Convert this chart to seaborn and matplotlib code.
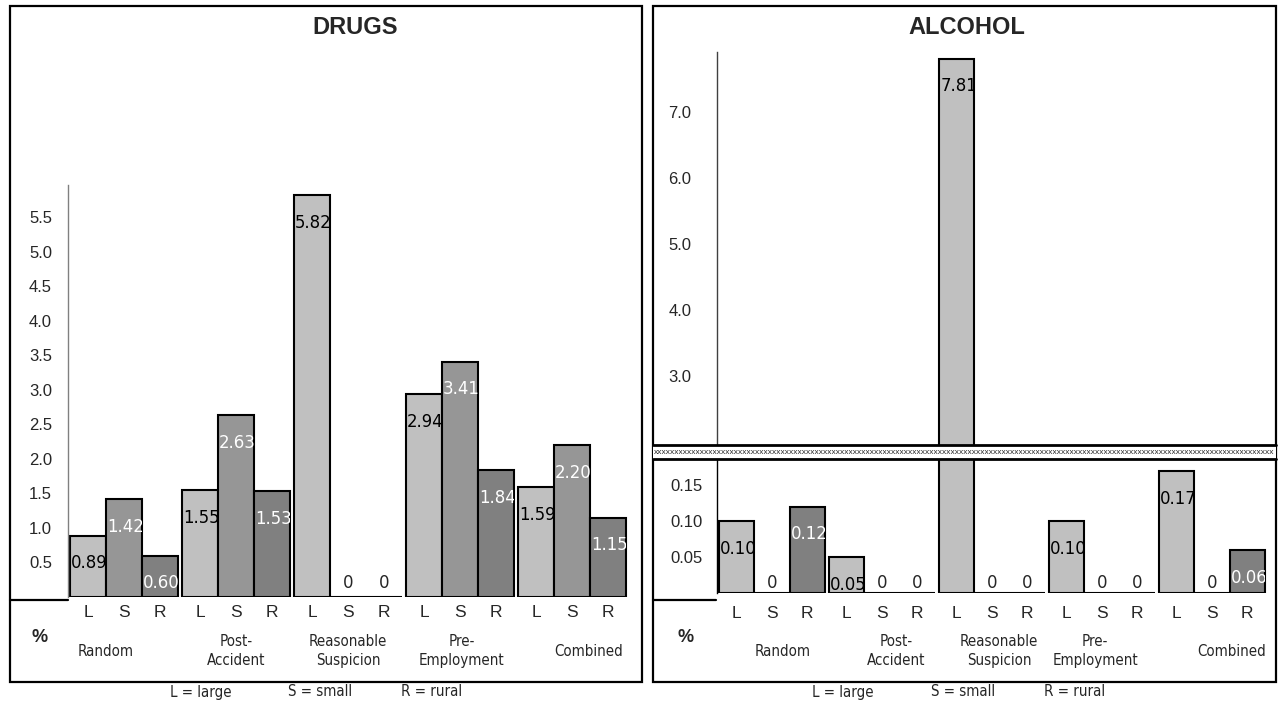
import matplotlib
matplotlib.use("Agg")
import pandas as pd
import matplotlib.pyplot as plt
import seaborn as sns
from matplotlib import font_manager
from matplotlib.patches import Rectangle
from matplotlib.lines import Line2D

# data
tests = ["Random", "Post-\nAccident", "Reasonable\nSuspicion", "Pre-\nEmployment", "Combined"]
sizes = ["L", "S", "R"]
drugs_L = [0.89, 1.55, 5.82, 2.94, 1.59]
drugs_S = [1.42, 2.63, 0.0, 3.41, 2.20]
drugs_R = [0.60, 1.53, 0.0, 1.84, 1.15]
alcohol_L = [0.10, 0.05, 7.81, 0.10, 0.17]
alcohol_S = [0.0, 0.0, 0.0, 0.0, 0.0]
alcohol_R = [0.12, 0.0, 0.0, 0.0, 0.06]
drug_ticks = [0.5, 1.0, 1.5, 2.0, 2.5, 3.0, 3.5, 4.0, 4.5, 5.0, 5.5]
alc_upper_ticks = [3.0, 4.0, 5.0, 6.0, 7.0]
alc_lower_ticks = [0.05, 0.10, 0.15]
legend_text = ["L = large", "S = small", "R = rural"]

bar_colors = ["#c0c0c0", "#969696", "#808080"]


def long_df(L, S, R):
    rows = []
    for size, vals in zip(sizes, [L, S, R]):
        for t, v in zip(tests, vals):
            rows.append({"test": t, "size": size, "value": v})
    return pd.DataFrame(rows)


drugs_df = long_df(drugs_L, drugs_S, drugs_R)
alcohol_df = long_df(alcohol_L, alcohol_S, alcohol_R)

sns.set_style("white")
plt.rcParams["font.family"] = ["Liberation Sans", "DejaVu Sans"]


# pick a narrow face if one is there, else plain Liberation Sans a bit smaller
def narrow_font():
    for fam, stretch, vs, ts in [("Liberation Sans Narrow", "normal", 15.5, 12),
                                 ("DejaVu Sans", "condensed", 13.2, 10.8)]:
        try:
            path = font_manager.findfont(font_manager.FontProperties(family=fam, stretch=stretch),
                                         fallback_to_default=False)
        except ValueError:
            continue
        if "Narrow" in path or "Condensed" in path:
            return font_manager.FontProperties(fname=path), vs, ts
    return font_manager.FontProperties(family="Liberation Sans"), 13.2, 11


NARROW, VAL_SIZE, TXT_SIZE = narrow_font()

W, H = 1278, 703


def fx(x):
    return x / W


def fy(y):
    return 1 - y / H


def ax_rect(x0, x1, ytop, ybot):
    return [fx(x0), fy(ybot), (x1 - x0) / W, (ybot - ytop) / H]


def nfont(size):
    fp = NARROW.copy()
    fp.set_size(size)
    return fp


fig = plt.figure(figsize=(12.78, 7.03), dpi=100)
ax_d = fig.add_axes(ax_rect(68, 628, 185, 597))
ax_au = fig.add_axes(ax_rect(717, 1267, 52, 447))
ax_al = fig.add_axes(ax_rect(717, 1267, 460, 593))


def draw_bars(ax, df, spine_color):
    sns.barplot(data=df, x="test", y="value", hue="size", order=tests, hue_order=sizes,
                palette=bar_colors, saturation=1, width=0.96, edgecolor="black",
                linewidth=1.5, errorbar=None, legend=False, ax=ax)
    ax.set_xlim(-0.5, 4.5)
    ax.set_xlabel("")
    ax.set_ylabel("")
    for s in ["top", "right", "bottom"]:
        ax.spines[s].set_visible(False)
    ax.spines["left"].set_color(spine_color)
    ax.spines["left"].set_linewidth(1.0)
    ax.tick_params(length=0)


def label_bars(ax, ok=lambda v: True, zero_off=3):
    for cont, size in zip(ax.containers, sizes):
        for bar in cont:
            v = bar.get_height()
            if not ok(v):
                continue
            if v == 0:
                ax.annotate("0", xy=(bar.get_x() + bar.get_width() / 2, 0),
                            xytext=(0, zero_off), textcoords="offset points",
                            ha="center", va="bottom", fontproperties=nfont(VAL_SIZE))
            else:
                col = "black" if size == "L" else "white"
                t = ax.annotate(f"{v:.2f}", xy=(bar.get_x(), v), xytext=(0.7, -13.5),
                                textcoords="offset points", ha="left", va="top",
                                fontproperties=nfont(VAL_SIZE), color=col,
                                annotation_clip=False)
                t.set_clip_on(True)
                t.set_clip_path(bar)


def bar_centers(ax):
    centers, labels = [], []
    for cont, size in zip(ax.containers, sizes):
        for bar in cont:
            centers.append(bar.get_x() + bar.get_width() / 2)
            labels.append(size)
    return centers, labels


def group_labels(ax, nudges):
    for i, (t, dx) in enumerate(zip(tests, nudges)):
        ax.annotate(t, xy=(i, H - 651), xycoords=("data", "figure pixels"),
                    xytext=(dx, 0), textcoords="offset points", ha="center",
                    va="center", fontproperties=nfont(TXT_SIZE), linespacing=1.3,
                    annotation_clip=False)


# DRUGS panel
draw_bars(ax_d, drugs_df, "#808080")
ax_d.set_ylim(0, 5.97)
ax_d.set_yticks(drug_ticks)
ax_d.set_yticklabels([f"{t:.1f}" for t in drug_ticks])
c, l = bar_centers(ax_d)
ax_d.set_xticks(c)
ax_d.set_xticklabels(l)
ax_d.tick_params(axis="y", labelsize=12, pad=11.5)
ax_d.tick_params(axis="x", labelsize=12.5, pad=5.5)
label_bars(ax_d, zero_off=3.5)
group_labels(ax_d, [-13, 0, 0, 1, 12])

# ALCOHOL panel, broken axis
draw_bars(ax_au, alcohol_df, "#404040")
draw_bars(ax_al, alcohol_df, "#000000")
ax_au.set_ylim(1.92, 7.91)
ax_al.set_ylim(0, 0.185)
ax_au.set_yticks(alc_upper_ticks)
ax_au.set_yticklabels([f"{t:.1f}" for t in alc_upper_ticks])
ax_au.set_xticks([])
ax_al.set_yticks(alc_lower_ticks)
ax_al.set_yticklabels([f"{t:.2f}" for t in alc_lower_ticks])
c, l = bar_centers(ax_al)
ax_al.set_xticks(c)
ax_al.set_xticklabels(l)
ax_au.tick_params(axis="y", labelsize=12, pad=18.5)
ax_al.tick_params(axis="y", labelsize=12, pad=10)
ax_al.tick_params(axis="x", labelsize=12.5, pad=9)
top_low = ax_al.get_ylim()[1]
label_bars(ax_au, ok=lambda v: v > top_low)
label_bars(ax_al, ok=lambda v: v <= top_low, zero_off=1)
group_labels(ax_al, [8, 10, 5, -5, 14])

# panel frames and header cells
for x0, x1 in [(10, 642), (653, 1276)]:
    fig.add_artist(Rectangle((fx(x0), fy(682)), (x1 - x0) / W, (682 - 6) / H,
                             transform=fig.transFigure, fill=False, lw=1.6,
                             edgecolor="black"))
fig.add_artist(Line2D([fx(10), fx(68)], [fy(600), fy(600)], lw=1.6, color="black"))
fig.add_artist(Line2D([fx(653), fx(716)], [fy(600), fy(600)], lw=1.6, color="black"))
fig.text(fx(40), fy(638), "%", fontsize=13, fontweight="bold", ha="center", va="center")
fig.text(fx(686), fy(638), "%", fontsize=13, fontweight="bold", ha="center", va="center")

fig.text(fx(355), fy(28), "DRUGS", fontsize=17, fontweight="bold", ha="center", va="center")
fig.text(fx(967), fy(28), "ALCOHOL", fontsize=17, fontweight="bold", ha="center", va="center")

# axis break band
fig.add_artist(Rectangle((fx(653), fy(459)), (1276 - 653) / W, 14 / H,
                         transform=fig.transFigure, facecolor="white", edgecolor="none"))
for yy in [445, 459]:
    fig.add_artist(Line2D([fx(653), fx(1276)], [fy(yy), fy(yy)], lw=2, color="black"))
fig.text(fx(964.5), fy(452), "x" * 146, fontsize=6, ha="center", va="center",
         family=["Liberation Sans", "DejaVu Sans"])

# footnotes
for xs in [(201, 320, 432), (843, 963, 1075)]:
    for x, t in zip(xs, legend_text):
        fig.text(fx(x), fy(692), t, fontproperties=nfont(TXT_SIZE), ha="center", va="center")

fig.savefig("out.png", dpi=100)
